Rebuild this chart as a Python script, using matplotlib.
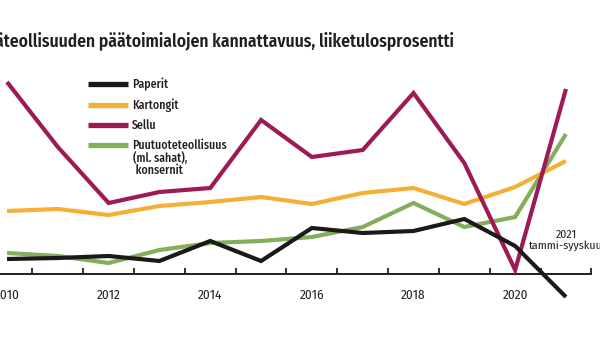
import numpy as np
import matplotlib
matplotlib.use("Agg")
import matplotlib.pyplot as plt

plt.rcParams['font.family'] = ['Fira Sans Condensed', 'DejaVu Sans']

# liiketulos-%
years = [2010, 2011, 2012, 2013, 2014, 2015, 2016, 2017, 2018, 2019, 2020, 2021]
paperit = [1.5, 1.6, 1.8, 1.3, 3.3, 1.3, 4.6, 4.1, 4.3, 5.5, 2.8, -2.3]
kartongit = [6.3, 6.5, 5.9, 6.8, 7.2, 7.7, 7.0, 8.1, 8.6, 7.0, 8.7, 11.3]
sellu = [19.2, 12.7, 7.1, 8.2, 8.6, 15.4, 11.7, 12.4, 18.1, 11.1, 0.4, 18.5]
puutuote = [2.1, 1.8, 1.1, 2.4, 3.1, 3.3, 3.7, 4.7, 7.1, 4.7, 5.7, 14.0]
labels = ['Paperit', 'Kartongit', 'Sellu', 'Puutuoteteollisuus']
colors = ['#1b1a1a', '#f4b036', '#9c1b55', '#85ae5c']
label_years = [2010, 2012, 2014, 2016, 2018, 2020]

txt = '#231f20'

fig = plt.figure(figsize=(6, 3.38), dpi=100)
ax = fig.add_axes([0, 0, 1, 1])
ax.set_xlim(2009.862, 2021.67)
ax.set_ylim(-6.4, 27.4)

series = [paperit, kartongit, sellu, puutuote]
# draw order: green, orange, magenta, black on top
for i in [3, 1, 2, 0]:
    ax.plot(years, series[i], color=colors[i], lw=3.0, solid_joinstyle='miter',
            solid_capstyle='butt', label=labels[i], zorder=3)

for s in ['top', 'left', 'right']:
    ax.spines[s].set_visible(False)
ax.spines['bottom'].set_position(('data', 0))
ax.spines['bottom'].set_bounds(2009.862, 2021.5)
ax.spines['bottom'].set_linewidth(1.4)
ax.spines['bottom'].set_color(txt)
ax.set_yticks([])

ax.set_xticks(np.arange(2010.5, 2022, 1.0))
ax.set_xticklabels([])
ax.tick_params(axis='x', which='major', direction='in', length=4.5, width=1.3, color=txt)
ax.set_xticks(label_years, minor=True)
ax.set_xticklabels([str(y) for y in label_years], minor=True)
ax.tick_params(axis='x', which='minor', length=0, pad=11, labelsize=9.5, labelcolor=txt)
ax.patch.set_alpha(0)

handles, labs = ax.get_legend_handles_labels()
order = [labs.index(l) for l in labels]
leg = ax.legend([handles[i] for i in order], [labs[i] for i in order],
                loc='upper left', bbox_to_anchor=(88 / 600, 1 - 78 / 338),
                frameon=False, prop={'size': 8.5, 'weight': 500},
                handlelength=3.4, handletextpad=0.3,
                labelspacing=0.62, borderaxespad=0, borderpad=0)
for line in leg.get_lines():
    line.set_linewidth(3.8)
for t in leg.get_texts():
    t.set_color(txt)

fig.text(133 / 600, 1 - 164 / 338, '(ml. sahat),\n konsernit', fontsize=8.5, color=txt,
         fontweight=500, ha='left', va='center', linespacing=1.0)

ax.text(2021, 3.4, '2021\ntammi-syyskuu', fontsize=8.5, color=txt, ha='center',
        va='center', linespacing=1.0)

fig.text(454 / 600, 1 - 42 / 338,
         'Metsäteollisuuden päätoimialojen kannattavuus, liiketulosprosentti',
         fontsize=12.6, fontweight=600, color=txt, ha='right', va='center')

fig.savefig('out.png', dpi=100)
